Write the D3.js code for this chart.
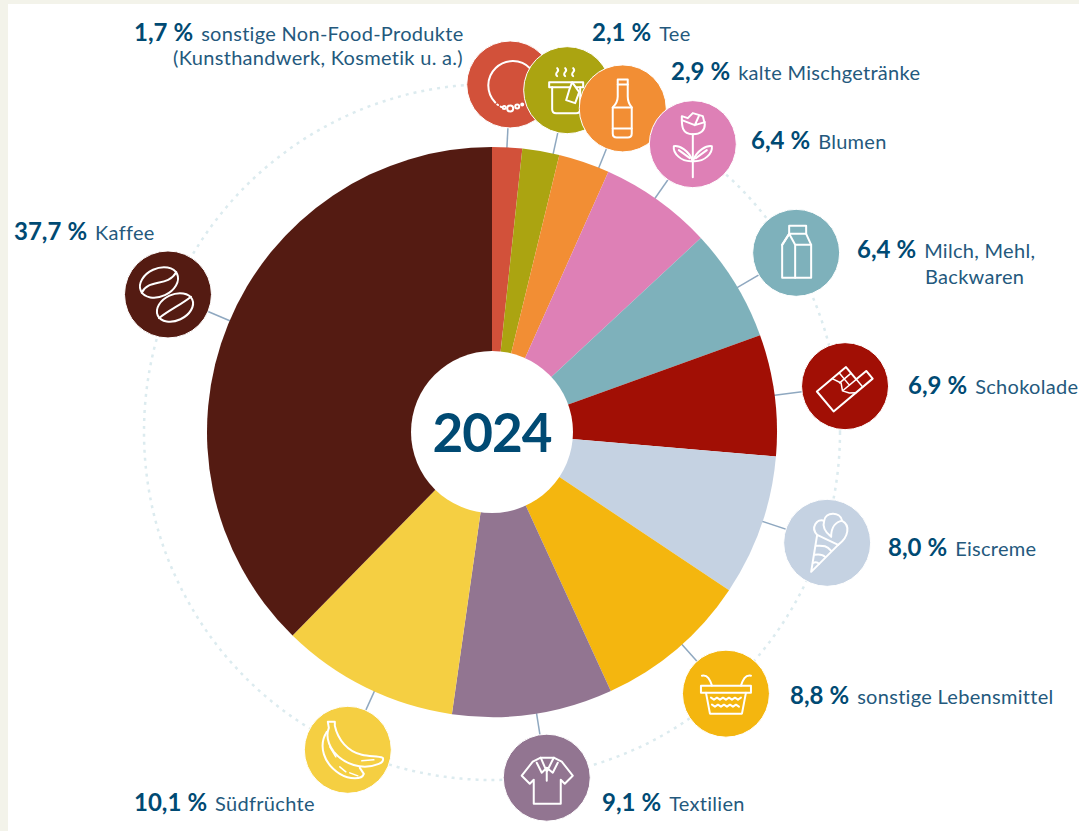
<!DOCTYPE html>
<html>
<head>
<meta charset="utf-8">
<script src="https://cdn.jsdelivr.net/npm/d3@7"></script>
<style>
  html, body { margin: 0; padding: 0; background: #f3f3ea; }
  svg { display: block; }
  text { font-family: "Lato", sans-serif; }
</style>
</head>
<body>
<svg id="chart"></svg>
<script>
// Fair-Handel Umsatz 2024 nach Produktgruppen

const categories = ["sonstige Non-Food-Produkte", "Tee", "kalte Mischgetränke", "Blumen", "Milch, Mehl,",
    "Schokolade", "Eiscreme", "sonstige Lebensmittel", "Textilien", "Südfrüchte", "Kaffee"];
const secondLines = ["(Kunsthandwerk, Kosmetik u. a.)", "", "", "", "Backwaren", "", "", "", "", "", ""];
const values = [1.7, 2.1, 2.9, 6.4, 6.4, 6.9, 8.0, 8.8, 9.1, 10.1, 37.7];
const centerLabel = "2024";

const colors = ["#d2513a", "#aba411", "#f28e34", "#de80b6", "#7eb1bb", "#a10f05", "#c5d2e2", "#f4b60f", "#927591", "#f5cf42", "#541b12"];

// where the icon sits, degrees clockwise from the top and distance from the middle
const iconAngles = [3, 12.4, 22, 34.9, 59.5, 82.6, 108.3, 138.2, 171, 204.4, 293];
const iconDist = [348, 350, 349, 351, 353, 356, 353, 351, 350, 349, 352];
// label start x and baseline y
const labelX = [134, 592, 671, 751, 857, 908, 888, 790, 602, 134, 14];
const labelY = [41, 41, 80, 149, 258, 394, 556, 704, 811, 811, 240];
const secondX = [463, 0, 0, 0, 925, 0, 0, 0, 0, 0, 0];

const chartWidth = 1079;
const chartHeight = 831;
const cx = 492, cy = 432;
const outerR = 285, innerR = 81, ringR = 348, iconR = 43.5;
const navy = "#004a73", labelBlue = "#24597d";

const svg = d3.select("#chart").attr("width", chartWidth).attr("height", chartHeight);

svg.append("rect").attr("width", chartWidth).attr("height", chartHeight).attr("fill", "#f3f3ea");
svg.append("rect").attr("x", 8).attr("y", 4).attr("width", chartWidth - 8).attr("height", chartHeight - 4).attr("fill", "#fff");

const g = svg.append("g").attr("transform", `translate(${cx}, ${cy})`);

const polar = (deg, r) => {
    const a = deg * Math.PI / 180;
    return [Math.sin(a) * r, -Math.cos(a) * r];
};

// dotted ring behind the icons
g.append("circle")
    .attr("r", ringR)
    .attr("fill", "none")
    .attr("stroke", "#dcebef")
    .attr("stroke-width", 2.5)
    .attr("stroke-dasharray", "3 5");

// leader lines
g.selectAll(".leader")
    .data(iconAngles)
    .join("line")
    .attr("class", "leader")
    .attr("x1", d => polar(d, outerR - 4)[0])
    .attr("y1", d => polar(d, outerR - 4)[1])
    .attr("x2", (d, i) => polar(d, iconDist[i])[0])
    .attr("y2", (d, i) => polar(d, iconDist[i])[1])
    .attr("stroke", "#8fa8c0")
    .attr("stroke-width", 1.5);

// pie
const pie = d3.pie().sort(null).value(d => d);
const arc = d3.arc().innerRadius(0).outerRadius(outerR);

g.selectAll(".slice")
    .data(pie(values))
    .join("path")
    .attr("class", "slice")
    .attr("fill", (d, i) => colors[i])
    .attr("d", arc);

g.append("circle").attr("r", innerR).attr("fill", "#fff");

g.append("text")
    .attr("text-anchor", "middle")
    .attr("y", 20)
    .attr("font-size", 53)
    .attr("font-weight", 700)
    .attr("letter-spacing", -1)
    .attr("fill", navy)
    .text(centerLabel);

// line icons, drawn around the middle of each circle
const icons = [
    // necklace
    `<path d="M20 -16 A24 24 0 1 0 -15 18"/><path d="M-13 20 L-8 23" stroke-dasharray="1 3"/><circle cx="0" cy="24" r="3"/><circle cx="7" cy="22" r="2"/><circle cx="12" cy="20" r="1"/><circle cx="-6" cy="23" r="1.5"/>`,
    // tea cup
    `<path d="M-10 -14 q-2 -2 0 -4 q2 -2 0 -4 M-2 -14 q-2 -2 0 -4 q2 -2 0 -4 M6 -14 q-2 -2 0 -4 q2 -2 0 -4"/><path d="M-18 -8 H16 V-3 H-18 Z"/><path d="M-15 -3 V19 Q-15 23 -11 23 H9 Q13 23 13 19 V-3"/><path d="M5 -8 L12 2 L8 13 L-1 10 L2 0 Z" fill="#aba411"/>`,
    // bottle
    `<path d="M-5 -29 H5 V-12 Q5 -6 9 -1 V25 Q9 29 5 29 H-6 Q-10 29 -10 25 V-1 Q-5 -6 -5 -12 Z"/><path d="M-5 -24 H5 M-10 -1 H9 M-10 20 H9"/>`,
    // rose
    `<path d="M0 -10 C-12 -10 -11 -20 -11 -28 L-5 -26 L0 -31 L10 -28 L12 -20 C12 -14 8 -10 0 -10 Z"/><path d="M-11 -24 L2 -19 L6 -28 M2 -19 L12 -22"/><path d="M0 -10 V33"/><path d="M0 17 C-4 6 -14 1 -19 2 C-20 9 -12 18 0 17 Z M0 17 C4 6 14 1 19 2 C20 9 12 18 0 17 Z"/><path d="M-14 6 L-3 14 M14 6 L3 14"/>`,
    // milk carton
    `<path d="M-14 -8 V25 H15 V-8 L10 -19 V-27 H-7 V-19 Z"/><path d="M-7 -19 H10 M-14 -8 L-7 -19 L-1 -8 V25 M-1 -8 H15"/>`,
    // chocolate bar, wrapped at the lower end
    `<g transform="rotate(-40)"><path d="M-25 -14 H13 V2 H26 V12 H-25 Z"/><path d="M-5 -14 L-1 -5 L-5 2 L-1 8 L4 12" stroke-width="1.5"/><path d="M4 -14 V2 M13 2 V12 M-2 -6 H13 M-4 2 H13" stroke-width="1.5"/></g>`,
    // ice cream cone
    `<path d="M-10 -8 L-16 29 L11 2 Z"/><path d="M-11 3 C-5 3 -1 2 4 8 M-13 12 C-8 11 -5 11 -2 14 M-14 20 C-12 19 -10 19 -8 21"/><path d="M-10 -8 C-17 -15 -10 -25 -3 -22 C-2 -31 13 -32 15 -22 C23 -18 22 -6 11 2"/><path d="M-3 -22 C-5 -16 -1 -10 4 -6 M15 -22 C9 -21 4 -16 4 -6"/>`,
    // basket
    `<path d="M-25 -8 H25 V-1 H-25 Z"/><path d="M-20 -1 L-16 20 H16 L20 -1"/><path d="M-15 4 l3 2 l3 -2 l3 2 l3 -2 l3 2 l3 -2 l3 2 l3 -2 l3 2 l3 -2 M-14 11 l3 2 l3 -2 l3 2 l3 -2 l3 2 l3 -2 l3 2 l3 -2 l3 2"/><path d="M-24 -18 C-18 -19 -16 -14 -14 -8 M25 -18 C19 -19 17 -14 15 -8"/>`,
    // polo shirt
    `<path d="M-14 -16 L-25 -2 L-17 6 L-13 2 V26 H14 V2 L18 6 L26 -2 L15 -16 L7 -20 H-6 Z"/><path d="M-6 -20 L0 -6 L7 -20 M-10 -15 L-5 -5 L0 -10 L6 -5 L11 -15 M0 -6 V3"/>`,
    // bananas
    `<path d="M-20 -28 L-13 -28 L-13 -24 C-10 -10 0 2 14 5 C22 7 30 6 35 8 C36 11 34 13 31 14 C14 21 -4 14 -14 2 C-20 -6 -22 -14 -19 -22 Z"/><path d="M-21 -18 C-30 -4 -24 14 -8 24 C2 30 14 30 16 24 L12 18"/><path d="M-18 -3 L-12 7 M-8 17 L-2 22 M2 23 L10 26 M14 11 L26 10" stroke-width="1.5"/>`,
    // coffee beans
    `<g transform="translate(-9,-12) rotate(-25)"><ellipse rx="20" ry="14"/><path d="M-20 2 C-8 -8 6 8 20 -2"/></g><g transform="translate(7,13) rotate(-25)"><ellipse rx="19" ry="13"/><path d="M-19 3 C-8 0 8 0 19 -3"/></g>`
];

const iconGroups = g.selectAll(".icon")
    .data(iconAngles)
    .join("g")
    .attr("class", "icon")
    .attr("transform", (d, i) => `translate(${polar(d, iconDist[i])})`);

iconGroups.append("circle")
    .attr("r", iconR)
    .attr("fill", (d, i) => colors[i])
    .attr("stroke", "#fff")
    .attr("stroke-width", 1);

iconGroups.append("g")
    .attr("fill", "none")
    .attr("stroke", "#fff")
    .attr("stroke-width", 2)
    .attr("stroke-linejoin", "round")
    .attr("stroke-linecap", "round")
    .html((d, i) => icons[i]);

// labels
const percent = v => v.toFixed(1).replace(".", ",") + "\u202f%";

const labels = svg.selectAll(".label")
    .data(values)
    .join("text")
    .attr("class", "label")
    .attr("x", (d, i) => labelX[i])
    .attr("y", (d, i) => labelY[i]);

labels.append("tspan")
    .attr("font-size", 24)
    .attr("font-weight", 700)
    .attr("fill", navy)
    .text(d => percent(d));

labels.append("tspan")
    .attr("dx", 8)
    .attr("font-size", 20)
    .attr("letter-spacing", 0.3)
    .attr("fill", labelBlue)
    .text((d, i) => categories[i]);

svg.selectAll(".label2")
    .data(secondLines.map((s, i) => ({ s, i })).filter(d => d.s))
    .join("text")
    .attr("class", "label2")
    .attr("x", d => secondX[d.i])
    .attr("y", d => labelY[d.i] + (d.i === 0 ? 24 : 26))
    .attr("text-anchor", d => d.i === 0 ? "end" : "start")
    .attr("font-size", 20)
    .attr("letter-spacing", 0.3)
    .attr("fill", labelBlue)
    .text(d => d.s);
</script>
</body>
</html>
